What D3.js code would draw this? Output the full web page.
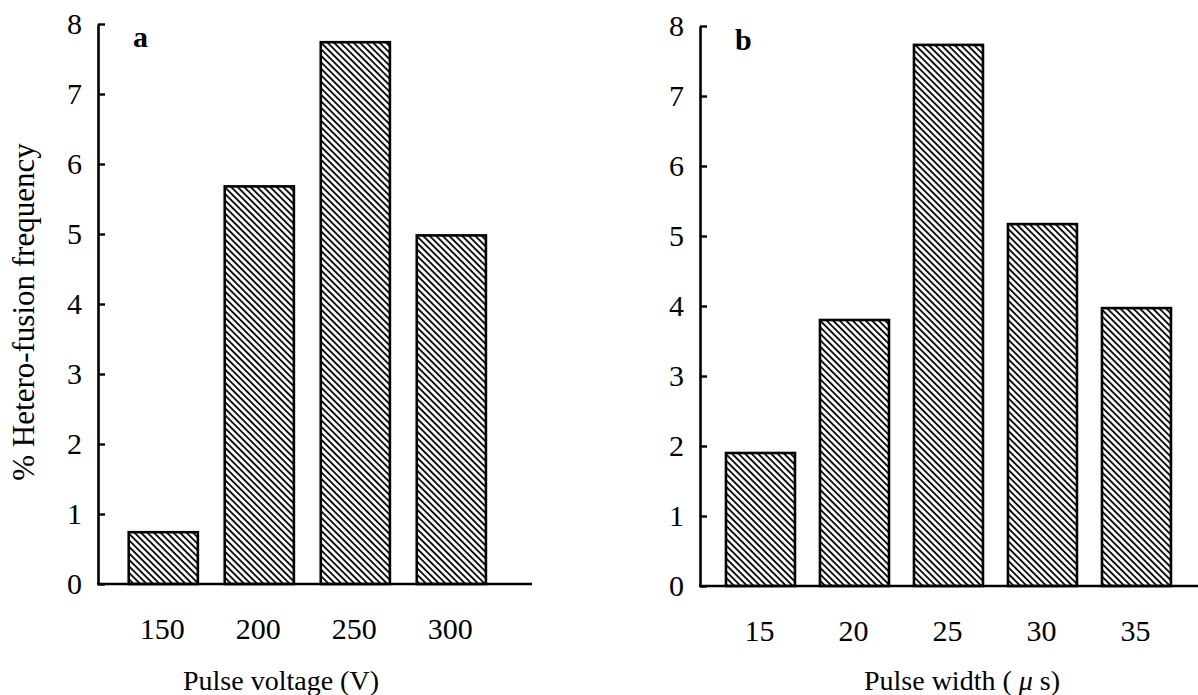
<!DOCTYPE html>
<html>
<head>
<meta charset="utf-8">
<script src="https://cdn.jsdelivr.net/npm/d3@7"></script>
<style>
  body { margin: 0; background: #fff; }
  svg { display: block; font-family: "Liberation Serif", "Times New Roman", serif; }
</style>
</head>
<body>
<svg id="chart" width="1198" height="695"></svg>
<script>
// data
const voltageCats = ["150", "200", "250", "300"];
const voltageVals = [0.74, 5.68, 7.74, 4.98];
const widthCats = ["15", "20", "25", "30", "35"];
const widthVals = [1.9, 3.8, 7.73, 5.17, 3.97];
const yTicks = [0, 1, 2, 3, 4, 5, 6, 7, 8];

const svg = d3.select("#chart");

// hatch pattern: thin diagonal lines running top-left to bottom-right
svg.append("defs").append("pattern")
  .attr("id", "hatch")
  .attr("patternUnits", "userSpaceOnUse")
  .attr("width", 8)
  .attr("height", 4.6)
  .attr("patternTransform", "rotate(45)")
  .append("line")
  .attr("x1", 0).attr("x2", 8)
  .attr("y1", 1).attr("y2", 1)
  .attr("stroke", "#000")
  .attr("stroke-width", 1.8);

const panels = [
  {
    cats: voltageCats, vals: voltageVals, letter: "a",
    x0: 98, x1: 532, y0: 584, y1: 24,
    padIn: 0.28, padOut: 0.4, align: 0.4,
    letterX: 133, letterY: 47
  },
  {
    cats: widthCats, vals: widthVals, letter: "b",
    x0: 700, x1: 1198, y0: 586, y1: 26,
    padIn: 0.266, padOut: 0.282, align: 0.49,
    letterX: 735, letterY: 50
  }
];

panels.forEach(p => {
  const x = d3.scaleBand()
    .domain(p.cats)
    .range([p.x0, p.x1])
    .paddingInner(p.padIn)
    .paddingOuter(p.padOut)
    .align(p.align);

  const y = d3.scaleLinear()
    .domain([0, 8])
    .range([p.y0, p.y1]);

  const data = p.cats.map((c, i) => ({ key: c, value: p.vals[i] }));

  svg.append("g")
    .selectAll("rect")
    .data(data)
    .enter()
    .append("rect")
    .attr("x", d => x(d.key))
    .attr("y", d => y(d.value))
    .attr("width", x.bandwidth())
    .attr("height", d => y(0) - y(d.value))
    .attr("fill", "url(#hatch)")
    .attr("stroke", "#000")
    .attr("stroke-width", 2.6);

  // y axis, ticks pointing inward
  const yAxis = svg.append("g")
    .attr("transform", `translate(${p.x0},0)`)
    .call(d3.axisLeft(y)
      .tickValues(yTicks)
      .tickSizeInner(-7)
      .tickSizeOuter(0)
      .tickPadding(16)
      .tickFormat(d3.format("d")));
  yAxis.select(".domain").attr("stroke-width", 2.6);
  yAxis.selectAll(".tick line").attr("stroke-width", 2.4);
  yAxis.selectAll(".tick text")
    .attr("font-size", 30)
    .attr("font-family", "Liberation Serif, serif")
    .attr("fill", "#000");

  // x axis: plain baseline, labels under bars
  svg.append("line")
    .attr("x1", p.x0 - 1).attr("x2", p.x1)
    .attr("y1", p.y0).attr("y2", p.y0)
    .attr("stroke", "#000")
    .attr("stroke-width", 2.6);

  svg.append("g")
    .selectAll("text")
    .data(p.cats)
    .enter()
    .append("text")
    .attr("x", d => x(d) + x.bandwidth() / 2 - 1)
    .attr("y", p.y0 + 55)
    .attr("text-anchor", "middle")
    .attr("font-size", 30)
    .text(d => d);

  svg.append("text")
    .attr("x", p.letterX)
    .attr("y", p.letterY)
    .attr("font-size", 30)
    .attr("font-weight", "bold")
    .text(p.letter);
});

// axis titles
svg.append("text")
  .attr("x", 281)
  .attr("y", 690)
  .attr("text-anchor", "middle")
  .attr("font-size", 28)
  .text("Pulse voltage (V)");

const wt = svg.append("text")
  .attr("x", 962)
  .attr("y", 690)
  .attr("text-anchor", "middle")
  .attr("font-size", 28);
wt.append("tspan").text("Pulse width ( ");
wt.append("tspan").attr("font-style", "italic").text("\u03bc");
wt.append("tspan").text(" s)");

svg.append("text")
  .attr("transform", "translate(34,312) rotate(-90)")
  .attr("text-anchor", "middle")
  .attr("font-size", 31)
  .text("% Hetero-fusion frequency");
</script>
</body>
</html>
